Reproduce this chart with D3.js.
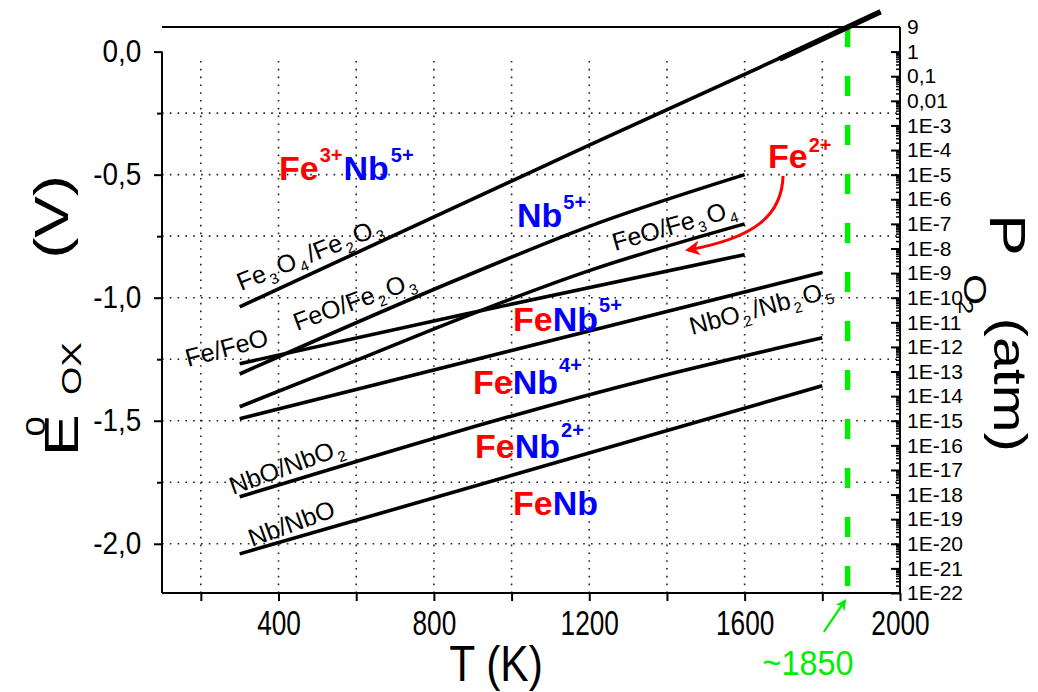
<!DOCTYPE html>
<html><head><meta charset="utf-8">
<script src="https://cdn.jsdelivr.net/npm/d3@7"></script>
<style>
body{margin:0;background:#fff}
svg{display:block;font-family:"Liberation Sans",Arial,Helvetica,sans-serif}
</style>
</head><body>
<svg id="chart" width="1038" height="692"></svg>
<script>
// ---------------- data ----------------
const xTickValues = [200,400,600,800,1000,1200,1400,1600,1800,2000];
const xTickLabels = ["","400","","800","","1200","","1600","","2000"];
const xGridValues = [200,400,600,800,1000,1200,1400,1600,1800];
const yTickValues = [0,-0.5,-1.0,-1.5,-2.0];
const yTickLabels = ["0,0","-0,5","-1,0","-1,5","-2,0"];
const yMinorValues = [-0.25,-0.75,-1.25,-1.75];
const yGridValues = [-0.25,-0.5,-0.75,-1.0,-1.25,-1.5,-1.75,-2.0];
const pTickValues = [10,1,1e-1,1e-2,1e-3,1e-4,1e-5,1e-6,1e-7,1e-8,1e-9,1e-10,1e-11,1e-12,1e-13,1e-14,1e-15,1e-16,1e-17,1e-18,1e-19,1e-20,1e-21,1e-22];
const pTickLabels = ["9","1","0,1","0,01","1E-3","1E-4","1E-5","1E-6","1E-7","1E-8","1E-9","1E-10","1E-11","1E-12","1E-13","1E-14","1E-15","1E-16","1E-17","1E-18","1E-19","1E-20","1E-21","1E-22"];

// equilibrium lines: [T (K), E0ox (V)]
const lineFe3O4_Fe2O3 = [[300,-1.037],[1200,-0.38],[1950,0.16]];
const lineFe3O4_Fe2O3_end = [[1690,-0.03],[1950,0.162]];
const lineFeO_Fe2O3 = [[300,-1.31],[870,-0.92],[1200,-0.71],[1600,-0.50]];
const lineFe_FeO = [[300,-1.268],[870,-1.07],[1600,-0.825]];
const lineFeO_Fe3O4 = [[300,-1.443],[600,-1.255],[843,-1.10],[1200,-0.89],[1600,-0.70]];
const lineNbO2_Nb2O5 = [[300,-1.492],[1800,-0.898]];
const lineNbO_NbO2 = [[300,-1.809],[1356,-1.33],[1800,-1.163]];
const lineNb_NbO = [[300,-2.041],[1800,-1.358]];
const meltingT = 1865;
const meltingLabel = "~1850";

// ---------------- setup ----------------
const svg = d3.select("#chart");
const x = d3.scaleLinear().domain([100,2000]).range([162,900]);
const y = d3.scaleLinear().domain([-2.2,0.1]).range([593,27]);
const yP = d3.scaleLog().domain([1e-22,10]).range([593,27]);

const defs = svg.append("defs");
function marker(id,color){
  defs.append("marker").attr("id",id).attr("viewBox","0 0 10 10")
    .attr("refX",8).attr("refY",5).attr("markerWidth",5).attr("markerHeight",5)
    .attr("orient","auto").attr("markerUnits","strokeWidth")
    .append("path").attr("d","M0,0 L10,5 L0,10 L3,5 Z").attr("fill",color);
}
marker("redHead","#ff0000"); marker("greenHead","#00ee00");

// grid
const grid = svg.append("g").attr("stroke","#222").attr("stroke-width",1.6)
  .attr("stroke-dasharray","1.6,6.2");
grid.selectAll("line.gx").data(xGridValues).join("line").attr("class","gx")
  .attr("x1",d=>x(d)).attr("x2",d=>x(d)).attr("y1",y(-2.2)).attr("y2",y(0)+4);
grid.selectAll("line.gy").data(yGridValues).join("line").attr("class","gy")
  .attr("x1",x(100)).attr("x2",x(2000)).attr("y1",d=>y(d)).attr("y2",d=>y(d));

// frame
const frame = svg.append("g").attr("stroke","#000").attr("stroke-width",2).attr("fill","none");
frame.append("line").attr("x1",x(100)).attr("x2",x(2000)).attr("y1",y(0.1)).attr("y2",y(0.1));
frame.append("line").attr("x1",x(100)).attr("x2",x(100)).attr("y1",y(0)).attr("y2",y(-2.2));
frame.append("line").attr("x1",x(100)).attr("x2",x(2000)).attr("y1",y(-2.2)).attr("y2",y(-2.2));
frame.append("line").attr("x1",x(2000)).attr("x2",x(2000)).attr("y1",y(0.1)).attr("y2",y(-2.2));

// axes
function styleAxis(g, size, sx){
  g.select(".domain").remove();
  g.selectAll(".tick line").attr("stroke","#000").attr("stroke-width",2);
  g.selectAll(".tick text").attr("fill","#000").attr("font-size",size);
  if(sx) g.selectAll(".tick text").attr("transform",`scale(${sx},1)`);
}
svg.append("g").attr("transform",`translate(${x(100)},0)`)
  .call(d3.axisLeft(y).tickValues(yTickValues).tickSize(8).tickPadding(15)
    .tickFormat((d,i)=>yTickLabels[i]))
  .call(g=>styleAxis(g,31,0.9));
svg.append("g").attr("transform",`translate(${x(100)},0)`)
  .call(d3.axisLeft(y).tickValues(yMinorValues).tickSize(5).tickFormat(""))
  .call(g=>styleAxis(g,25));
svg.append("g").attr("transform",`translate(0,${y(-2.2)})`)
  .call(d3.axisBottom(x).tickValues(xTickValues).tickSize(8).tickPadding(9)
    .tickFormat((d,i)=>xTickLabels[i]))
  .call(g=>styleAxis(g,35,0.75));
// right log axis: inward ticks
const pMinor = [];
for(let k=-22;k<0;k++){ for(let m=2;m<=9;m++){ pMinor.push(m*Math.pow(10,k)); } }
svg.append("g").attr("transform",`translate(${x(2000)},0)`)
  .call(d3.axisRight(yP).tickValues(pTickValues.slice(1)).tickSize(-9).tickFormat(""))
  .call(g=>styleAxis(g,18));
svg.append("g").attr("transform",`translate(${x(2000)},0)`)
  .call(d3.axisRight(yP).tickValues(pMinor).tickSize(-4).tickFormat(""))
  .call(g=>{styleAxis(g,18); g.selectAll(".tick line").attr("stroke-width",1.5);});
svg.append("g").attr("transform",`translate(${x(2000)},0)`)
  .call(d3.axisRight(yP).tickValues(pTickValues).tickSize(0).tickPadding(7)
    .tickFormat((d,i)=>pTickLabels[i]))
  .call(g=>styleAxis(g,21));

// melting line
svg.append("line").attr("x1",x(meltingT)).attr("x2",x(meltingT))
  .attr("y1",y(0.1)).attr("y2",y(-2.2))
  .attr("stroke","#00ee00").attr("stroke-width",5.5).attr("stroke-dasharray","20,29");

// equilibrium lines
const lineGen = d3.line().x(d=>x(d[0])).y(d=>y(d[1])).curve(d3.curveMonotoneX);
const allLines = [lineFe3O4_Fe2O3,lineFeO_Fe2O3,lineFe_FeO,lineFeO_Fe3O4,lineNbO2_Nb2O5,lineNbO_NbO2,lineNb_NbO];
svg.append("g").selectAll("path").data(allLines).join("path")
  .attr("d",lineGen).attr("fill","none").attr("stroke","#000").attr("stroke-width",3.6);
svg.append("path").datum(lineFe3O4_Fe2O3_end).attr("d",lineGen)
  .attr("fill","none").attr("stroke","#000").attr("stroke-width",5.5);

// ---------------- labels ----------------
function rich(px, py, parts, opts={}){
  const t = svg.append("text").attr("x",px).attr("y",py)
    .attr("font-size",opts.size||34).attr("font-weight",opts.weight||"normal");
  if(opts.rotate) t.attr("transform",`rotate(${opts.rotate},${px},${py})`);
  parts.forEach(p=>{
    const s = t.append("tspan").text(p.t).attr("fill",p.fill||"#000");
    if(p.size) s.attr("font-size",p.size);
    if(p.dx!==undefined) s.attr("dx",p.dx);
    if(p.dy!==undefined) s.attr("dy",p.dy);
  });
  return t;
}
const RED="#ff0000", BLUE="#0000ff";
const sup = 20;
rich(279,180,[{t:"Fe",fill:RED},{t:"3+",fill:RED,size:sup,dx:1,dy:-18},{t:"Nb",fill:BLUE,dx:1,dy:18},{t:"5+",fill:BLUE,size:sup,dx:2,dy:-18}],{weight:"bold"});
rich(517,227,[{t:"Nb",fill:BLUE},{t:"5+",fill:BLUE,size:sup,dx:1,dy:-18}],{weight:"bold"});
rich(768,168,[{t:"Fe",fill:RED},{t:"2+",fill:RED,size:sup,dx:1,dy:-16}],{weight:"bold"});
rich(513,331,[{t:"Fe",fill:RED},{t:"Nb",fill:BLUE},{t:"5+",fill:BLUE,size:sup,dx:1,dy:-19}],{weight:"bold"});
rich(473,394,[{t:"Fe",fill:RED},{t:"Nb",fill:BLUE},{t:"4+",fill:BLUE,size:sup,dx:1,dy:-22}],{weight:"bold"});
rich(475,458,[{t:"Fe",fill:RED},{t:"Nb",fill:BLUE},{t:"2+",fill:BLUE,size:sup,dx:1,dy:-21}],{weight:"bold"});
rich(513,515,[{t:"Fe",fill:RED},{t:"Nb",fill:BLUE}],{weight:"bold"});

// rotated reaction labels
const SUB = 15, FS = 25;
function chem(px,py,rot,parts){
  rich(px,py,parts.map(p=> p.sub ? {t:p.t,size:SUB,dx:2,dy:6} : (p.back ? {t:p.t,dx:3,dy:-6} : {t:p.t})),{size:FS,rotate:rot});
}
chem(241,291,-22,[{t:"Fe"},{t:"3",sub:1},{t:"O",back:1},{t:"4",sub:1},{t:"/Fe",back:1},{t:"2",sub:1},{t:"O",back:1},{t:"3",sub:1}]);
chem(297,331,-20,[{t:"FeO/Fe"},{t:"2",sub:1},{t:"O",back:1},{t:"3",sub:1}]);
chem(188,367,-15,[{t:"Fe/FeO"}]);
chem(615,251,-16,[{t:"FeO/Fe"},{t:"3",sub:1},{t:"O",back:1},{t:"4",sub:1}]);
chem(692,335,-15,[{t:"NbO"},{t:"2",sub:1},{t:"/Nb",back:1},{t:"2",sub:1},{t:"O",back:1},{t:"5",sub:1}]);
chem(233,495,-20,[{t:"NbO/NbO"},{t:"2",sub:1}]);
chem(252,547,-20,[{t:"Nb/NbO"}]);

// red arrow (Fe2+)
const redArrow = [[1699,-0.505],[1696,-0.664],[1627,-0.757],[1454,-0.806]];
svg.append("path")
  .attr("d",`M${x(redArrow[0][0])},${y(redArrow[0][1])} C${x(redArrow[1][0])},${y(redArrow[1][1])} ${x(redArrow[2][0])},${y(redArrow[2][1])} ${x(redArrow[3][0])},${y(redArrow[3][1])}`)
  .attr("fill","none").attr("stroke",RED).attr("stroke-width",3).attr("marker-end","url(#redHead)");

// green arrow + label
const greenArrow = [[1804,-2.358],[1858,-2.232]];
svg.append("line").attr("x1",x(greenArrow[0][0])).attr("y1",y(greenArrow[0][1]))
  .attr("x2",x(greenArrow[1][0])).attr("y2",y(greenArrow[1][1]))
  .attr("stroke","#00ee00").attr("stroke-width",2.2).attr("marker-end","url(#greenHead)");
svg.append("text").attr("transform","translate(808,675) scale(0.9,1)").attr("text-anchor","middle")
  .attr("font-size",36).attr("fill","#00ee00").text(meltingLabel);

// axis titles
svg.append("text").attr("transform","translate(496,681) scale(0.85,1)").attr("text-anchor","middle")
  .attr("font-size",50).attr("fill","#000").text("T (K)");

// left title E0ox (V), rotated
const lt = svg.append("g").attr("transform","translate(78,456) rotate(-90) scale(1.3,1)");
lt.append("text").attr("x",0).attr("y",0).attr("font-size",48).text("E");
lt.append("text").attr("x",15).attr("y",-33).attr("font-size",28).text("0");
lt.append("text").attr("x",47).attr("y",3).attr("font-size",28).text("OX");
lt.append("text").attr("x",152).attr("y",-10).attr("font-size",48).text("(V)");

// right title P O2 (atm), rotated
const rt = svg.append("g").attr("transform","translate(990,214) rotate(90) scale(1.25,1)");
rt.append("text").attr("x",0).attr("y",0).attr("font-size",50).text("P");
rt.append("text").attr("x",48).attr("y",26).attr("font-size",32).text("O");
rt.append("text").attr("x",69).attr("y",31).attr("font-size",20).text("2");
rt.append("text").attr("x",83).attr("y",-4).attr("font-size",46).text("(atm)");
</script>
</body></html>
